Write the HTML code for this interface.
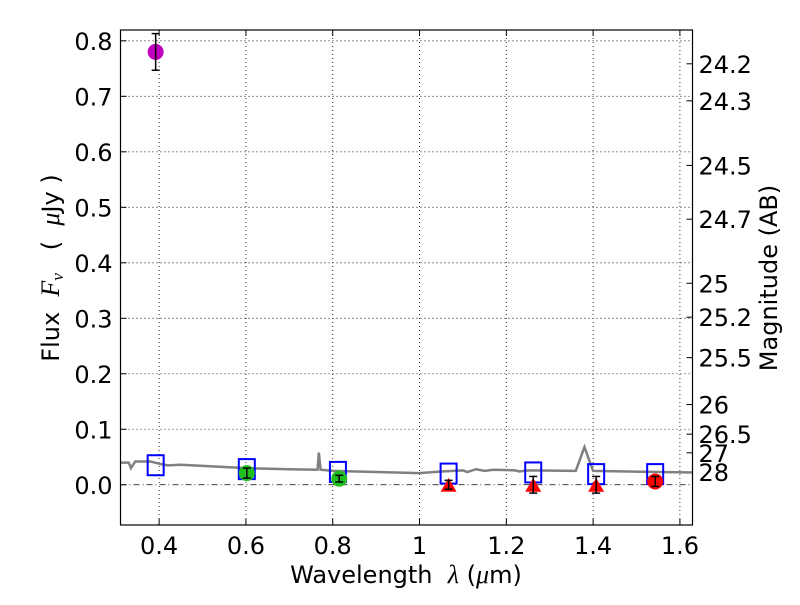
<!DOCTYPE html>
<html><head><meta charset="utf-8"><style>body{margin:0;background:#fff}svg{font-family:"DejaVu Sans","Liberation Sans",sans-serif}</style></head>
<body>
<svg id="chart" width="800" height="600"></svg>
<script>
const xTicks=[0.4,0.6,0.8,1.0,1.2,1.4,1.6];
const xTickLabels=["0.4","0.6","0.8","1","1.2","1.4","1.6"];
const yTicks=[0,0.1,0.2,0.3,0.4,0.5,0.6,0.7,0.8];
const yTickLabels=["0.0","0.1","0.2","0.3","0.4","0.5","0.6","0.7","0.8"];
const magTicks=[24.2,24.3,24.5,24.7,25,25.2,25.5,26,26.5,27,28];
const specX=[0.31,0.33,0.335,0.345,0.38,0.40,0.42,0.45,0.5,0.6,0.7,0.765,0.768,0.772,0.8,0.9,1.0,1.05,1.1,1.11,1.13,1.15,1.17,1.22,1.23,1.25,1.36,1.38,1.40,1.63];
const specY=[0.04,0.04,0.03,0.042,0.042,0.038,0.035,0.036,0.034,0.03,0.028,0.027,0.058,0.027,0.025,0.023,0.021,0.024,0.026,0.023,0.028,0.025,0.027,0.026,0.024,0.026,0.025,0.068,0.025,0.022];
const modelX=[0.392,0.602,0.812,1.067,1.262,1.407,1.543];
const modelY=[0.037,0.030,0.025,0.022,0.024,0.021,0.021];
const obsX=[0.392,0.602,0.815,1.543];
const obsY=[0.78,0.021,0.011,0.006];
const obsErr=[0.033,0.009,0.006,0.009];
const obsColor=["#bf00bf","#1fbf1f","#1fbf1f","#ff0000"];
const limX=[1.067,1.262,1.407];
const limY=[0.0,0.0,0.0];
const limErr=[0.008,0.015,0.015];

const L=120.5,R=692.5,T=30,B=525;
const x0=0.311,x1=1.629,y0=-0.0725,y1=0.8195;
const X=v=>L+(v-x0)/(x1-x0)*(R-L);
const Y=v=>B-(v-y0)/(y1-y0)*(B-T);
const svg=document.getElementById('chart');
const NS="http://www.w3.org/2000/svg";
function mk(t,a,p){const e=document.createElementNS(NS,t);for(const k in a)e.setAttribute(k,a[k]);(p||svg).appendChild(e);return e;}
xTicks.forEach((v,i)=>{
 const g=mk('line',{x1:X(v),x2:X(v),y1:T,y2:B,stroke:'#000','stroke-width':0.8,'stroke-dasharray':'1,3'});
 
 
 mk('line',{x1:X(v),x2:X(v),y1:B,y2:B-6,stroke:'#000'});
 mk('line',{x1:X(v),x2:X(v),y1:T,y2:T+6,stroke:'#000'});
 const t=mk('text',{x:X(v),y:B+29,'text-anchor':'middle','font-size':24});t.textContent=xTickLabels[i];
 
 
});
yTicks.forEach((v,i)=>{
 const g=mk('line',{x1:L,x2:R,y1:Y(v),y2:Y(v),stroke:'#000','stroke-width':0.8,'stroke-dasharray':v===0?'6,3,1,3':'1,3'});
 
 
 mk('line',{x1:L,x2:L+6,y1:Y(v),y2:Y(v),stroke:'#000'});
 const t=mk('text',{x:L-8,y:Y(v)+9,'text-anchor':'end','font-size':24});t.textContent=yTickLabels[i];
 
 
});
magTicks.forEach(m=>{
 const f=Math.pow(10,(23.9-m)/2.5);const y=Y(f);
 mk('line',{x1:R-6,x2:R,y1:y,y2:y,stroke:'#000'});
 const t=mk('text',{x:R+6,y:y+9,'font-size':24});t.textContent=String(m);
 
 
});
const sp=mk('polyline',{points:specX.map((v,i)=>X(v)+','+Y(specY[i])).join(' '),fill:'none',stroke:'#808080','stroke-width':2.5});


modelX.forEach((v,i)=>{
 const r=mk('rect',{x:X(v)-8,y:Y(modelY[i])-9,width:16,height:20,fill:'none',stroke:'#0000ff','stroke-width':2});
 
 
});
function errbar(x,y,e){const y1=Y(y-e),y2=Y(y+e);
 mk('line',{x1:x,x2:x,y1:y1,y2:y2,stroke:'#000','stroke-width':1.5});
 mk('line',{x1:x-4,x2:x+4,y1:y1,y2:y1,stroke:'#000','stroke-width':1.5});
 mk('line',{x1:x-4,x2:x+4,y1:y2,y2:y2,stroke:'#000','stroke-width':1.5});}
limX.forEach((v,i)=>{
 const x=X(v),y=Y(limY[i]);
 const p=mk('polygon',{points:`${x},${y-7} ${x-8},${y+7} ${x+8},${y+7}`,fill:'#ff0000'});
 
 
 errbar(x,limY[i],limErr[i]);
});
obsX.forEach((v,i)=>{
 const c=mk('circle',{cx:X(v),cy:Y(obsY[i]),r:8,fill:obsColor[i]});
 
 
 errbar(X(v),obsY[i],obsErr[i]);
});
const fr=mk('rect',{x:L,y:T,width:R-L,height:B-T,fill:'none',stroke:'#000','stroke-width':1.2});


const xl=mk('text',{x:406,y:583,'text-anchor':'middle','font-size':24});
xl.setAttribute('style','white-space:pre');
xl.innerHTML='Wavelength  <tspan font-style="italic" font-family="Liberation Serif" font-size="26">λ</tspan> (<tspan font-style="italic" font-family="Liberation Serif" font-size="26">μ</tspan>m)';


const yl=mk('text',{transform:'translate(59,268) rotate(-90)','text-anchor':'middle','font-size':24});
yl.setAttribute('style','white-space:pre');
yl.innerHTML='Flux  <tspan font-style="italic" font-family="Liberation Serif" font-size="26">F</tspan><tspan font-style="italic" font-family="Liberation Serif" font-size="17" dy="4">ν</tspan><tspan dy="-4">   (  </tspan><tspan font-style="italic" font-family="Liberation Serif" font-size="26">μ</tspan>Jy )';


const ml=mk('text',{transform:'translate(777,278) rotate(-90)','text-anchor':'middle','font-size':24});
ml.textContent='Magnitude (AB)';


</script>
</body></html>
